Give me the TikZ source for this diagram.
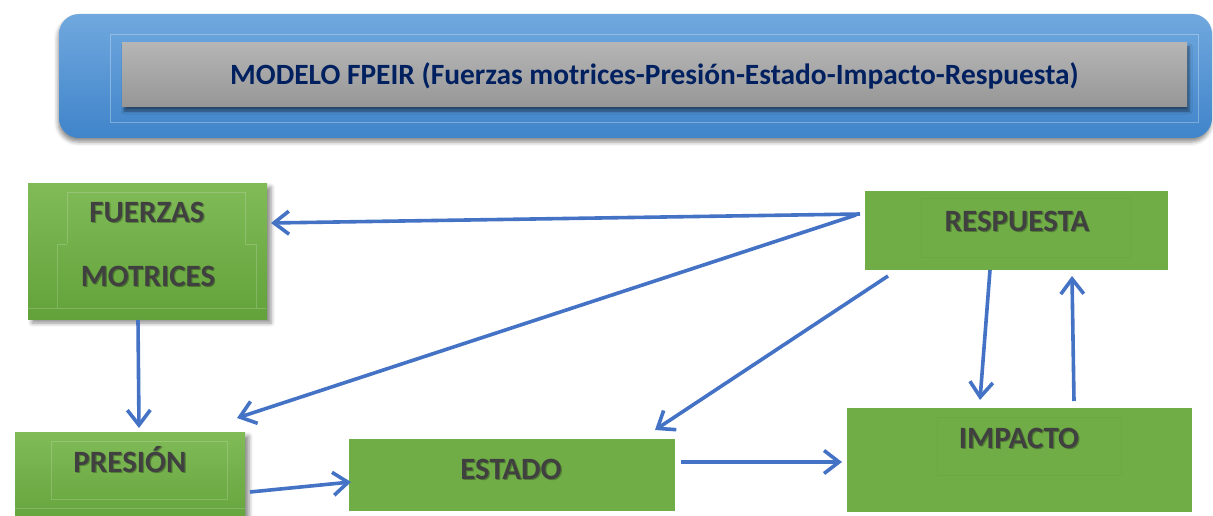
\documentclass[tikz,border=0pt]{standalone}
\usepackage{fontspec}
\setmainfont{Carlito}
\usetikzlibrary{arrows.meta,shadows.blur,calc}
\definecolor{grn}{HTML}{70AD47}
\definecolor{grnlt}{HTML}{80BB58}
\definecolor{grndk}{HTML}{63A23A}
\definecolor{arrblue}{HTML}{4472C4}
\definecolor{hdrtop}{HTML}{70A8DE}
\definecolor{hdrbot}{HTML}{4084CA}
\definecolor{navy}{HTML}{002060}
\definecolor{txtgray}{HTML}{404040}
\newcommand\ShLabel[3]{%
  \node[lblsh] (#1s) at ($(#2)+(1.2,1.6)$) {#3};
  \node[lbl] (#1) at (#2) {#3};}
\begin{document}
\begin{tikzpicture}[x=1pt,y=-1pt,
  box/.style={rectangle, inner sep=0pt, outer sep=0pt, fill=grn},
  gbox/.style={rectangle, inner sep=0pt, outer sep=0pt, top color=grnlt, bottom color=grndk,
     blur shadow={shadow xshift=4pt, shadow yshift=-4pt, shadow blur radius=4pt, shadow opacity=45}},
  lbl/.style={anchor=base, inner sep=0pt, text=txtgray, font=\fontsize{31}{33}\selectfont\bfseries},
  lblsh/.style={lbl, text=black, opacity=.28},
  faint/.style={draw=white, opacity=.18, line width=0.8pt},
  faintg/.style={draw=grndk, opacity=.3, line width=0.6pt},
  arr/.style={draw=arrblue, line width=3.6pt, -{Straight Barb[length=15pt,width=23pt]}}]
\useasboundingbox (0,0) rectangle (1213,516);

% header
\node[rectangle, rounded corners=20pt, inner sep=0pt, outer sep=0pt,
      minimum width=1153pt, minimum height=124pt, top color=hdrtop, bottom color=hdrbot,
      blur shadow={shadow xshift=-1pt, shadow yshift=-4pt, shadow blur radius=4pt, shadow opacity=45}]
      (hdr) at (635.5,76) {};
\draw[draw=white, opacity=.3, line width=0.8pt] (110,34) rectangle (1198,122);
\node[rectangle, inner sep=0pt, outer sep=0pt, minimum width=1065pt, minimum height=64pt,
      top color=black!29, bottom color=black!41,
      blur shadow={shadow xshift=2pt, shadow yshift=-4pt, shadow blur radius=3pt, shadow opacity=50}]
      (ttl) at (654.5,75) {};
\node[anchor=base, inner sep=0pt, text=navy, font=\fontsize{29.4}{31}\selectfont\bfseries]
      (ttltext) at (654.5,84.5) {MODELO FPEIR (Fuerzas motrices-Presión-Estado-Impacto-Respuesta)};

% boxes
\node[gbox, minimum width=239pt, minimum height=136pt] (fuerzas) at (147.5,251) {};
\draw[faint] (67,243) -- (67,192) -- (245,192) -- (245,244) -- (256,244) -- (256,308);
\draw[faint] (57,308) -- (57,244) -- (67,244);
\draw[faint] (28,308) -- (267,308);
\node[gbox, minimum width=230pt, minimum height=98pt] (presion) at (130,481) {};
\draw[faint] (51,441) rectangle (227,499);
\draw[faint] (15,508) -- (245,508);
\node[box, minimum width=326pt, minimum height=72pt] (estado) at (512,475) {};
\node[box, minimum width=345pt, minimum height=104pt] (impacto) at (1019.5,460) {};
\draw[faintg] (937,417) rectangle (1121,475);
\node[box, minimum width=303pt, minimum height=79pt] (resp) at (1016.5,230.5) {};
\draw[faintg] (921,198) rectangle (1130,257);

% labels
\ShLabel{tF}{147,222}{FUERZAS}
\ShLabel{tM}{148,286}{MOTRICES}
\ShLabel{tP}{130,472}{PRESIÓN}
\ShLabel{tE}{511,479}{ESTADO}
\ShLabel{tR}{1017,231}{RESPUESTA}
\ShLabel{tI}{1019,448}{IMPACTO}

% connectors
\path[arr] ($(resp.west)+(-5,-16.5)$) -- ($(fuerzas.east)+(4,-28)$);
\path[arr] ($(resp.west)+(-9,-15.5)$) -- ($(presion.north east)+(-8,-14)$);
\path[arr] ($(resp.south west)+(23,6)$) -- ($(estado.north east)+(-20,-9)$);
\path[arr] ($(resp.south)+(-26.5,0)$) -- ($(impacto.north)+(-39.5,-8)$);
\path[arr] ($(impacto.north)+(54.5,-7)$) -- ($(resp.south)+(55.5,6)$);
\path[arr] ($(fuerzas.south)+(-9.5,1)$) -- ($(presion.north)+(9,-4)$);
\path[arr] ($(presion.east)+(5,11)$) -- ($(estado.west)+(2,7)$);
\path[arr] ($(estado.east)+(6,-13)$) -- ($(impacto.west)+(-5,2)$);
\end{tikzpicture}
\end{document}
